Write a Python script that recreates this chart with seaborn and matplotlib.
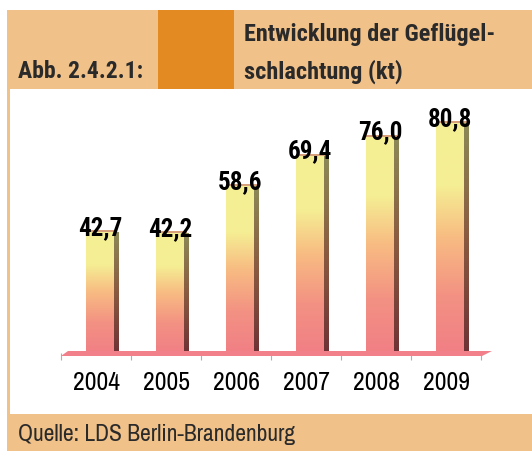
import numpy as np
import pandas as pd
import matplotlib
matplotlib.use("Agg")
import matplotlib.pyplot as plt
import seaborn as sns
from matplotlib.patches import Rectangle, Polygon
from matplotlib.colors import LinearSegmentedColormap

# ---- data ----
years = ["2004", "2005", "2006", "2007", "2008", "2009"]
values = [42.7, 42.2, 58.6, 69.4, 76.0, 80.8]
value_labels = ["42,7", "42,2", "58,6", "69,4", "76,0", "80,8"]
title_lines = ["Entwicklung der Geflügel-", "schlachtung (kt)"]
fig_label = "Abb. 2.4.2.1:"
source = "Quelle: LDS Berlin-Brandenburg"

sns.set_theme(style="white")
REG = ["Liberation Sans Narrow", "Arial Narrow", "Archivo Narrow", "Roboto Condensed",
       "DejaVu Sans"]
BOLD = ["Liberation Sans Narrow", "Arial Narrow", "Roboto Condensed",
        "Barlow Semi Condensed", "DejaVu Sans"]
plt.rcParams["font.family"] = REG

W, H = 532, 452
fig = plt.figure(figsize=(W / 100, H / 100), dpi=100)
fig.patch.set_facecolor("white")

LIGHT = "#F0C189"
DARK = "#E38B22"
TXT = "#2A2A2A"

def fx(px):
    return px / W

def fy(py):
    return 1 - py / H

# header band
fig.patches.append(Rectangle((fx(7), fy(90)), fx(532 - 7), (90 - 11) / H,
                             transform=fig.transFigure, facecolor=LIGHT, edgecolor="none", zorder=0))
fig.patches.append(Rectangle((fx(158), fy(90)), fx(234 - 158), (90 - 11) / H,
                             transform=fig.transFigure, facecolor=DARK, edgecolor="none", zorder=1))
# left border of white area
fig.patches.append(Rectangle((fx(7), fy(415)), fx(2.5), (415 - 90) / H,
                             transform=fig.transFigure, facecolor=LIGHT, edgecolor="none", zorder=0))
# footer band
fig.patches.append(Rectangle((fx(7), 0), fx(532 - 7), (452 - 415) / H,
                             transform=fig.transFigure, facecolor=LIGHT, edgecolor="none", zorder=0))

fig.text(fx(244), fy(34), title_lines[0], fontsize=17.5, fontweight="bold", color=TXT,
         ha="left", va="center", family=BOLD)
fig.text(fx(244), fy(72), title_lines[1], fontsize=17.5, fontweight="bold", color=TXT,
         ha="left", va="center", family=BOLD)
fig.text(fx(18), fy(72), fig_label, fontsize=17, fontweight="bold", color=TXT,
         ha="left", va="center", family=BOLD)
fig.text(fx(18), fy(435), source, fontsize=17, color=TXT, ha="left", va="center",
         family=REG)

# ---- chart axes ----
base_px = 354
scale = 2.86
top_px = 95
ax = fig.add_axes([fx(61), fy(base_px), fx(481 - 61), (base_px - top_px) / H])
ax.set_facecolor("none")

df = pd.DataFrame({"year": years, "value": values})
sns.barplot(data=df, x="year", y="value", ax=ax, width=0.4, color="#F5C080",
            saturation=1, edgecolor="none", zorder=3)

ymax = (base_px - top_px) / scale
xlim = (-0.5, 5.5)

cmap_front = LinearSegmentedColormap.from_list(
    "front", [(0.0, "#F17F85"), (0.25, "#F39283"), (0.5, "#F8BC82"),
              (0.72, "#F5EE94"), (1.0, "#F5F095")])
cmap_side = LinearSegmentedColormap.from_list(
    "side", [(0.0, "#6E3236"), (0.5, "#8A5A40"), (1.0, "#8C8A58")])
grad = np.linspace(0, 1, 256).reshape(-1, 1)

shift = 0.057
side_w = 0.06
bars = list(ax.patches)
for p, v in zip(bars, values):
    p.set_x(p.get_x() + shift)
    x0 = p.get_x()
    x1 = x0 + p.get_width()
    p.set_facecolor("none")
    im = ax.imshow(grad, cmap=cmap_front, origin="lower", aspect="auto",
                   extent=[x0, x1, 0, v], zorder=3, interpolation="bilinear")
    im.set_clip_path(p)
    side = Rectangle((x1, 0), side_w, v - 0.3, facecolor="none", edgecolor="none", zorder=3)
    ax.add_patch(side)
    im2 = ax.imshow(grad, cmap=cmap_side, origin="lower", aspect="auto",
                    extent=[x1, x1 + side_w, 0, v - 0.3], zorder=3, interpolation="bilinear")
    im2.set_clip_path(side)
    ax.add_patch(Rectangle((x0, v - 0.35), x1 - x0 + side_w * 0.6, 0.7,
                           facecolor="#D6A07A", edgecolor="none", zorder=4))

for p, v, lab in zip(bars, values, value_labels):
    cx = p.get_x() + p.get_width() / 2
    ax.annotate(lab, (cx, v), xytext=(0, 3), textcoords="offset points",
                ha="center", va="center", fontsize=18, fontweight="bold",
                color="black", zorder=6, annotation_clip=False, family=BOLD)

ax.set_xlim(*xlim)
ax.set_ylim(0, ymax)

# floor (3D base)
floor_pts = np.array([(61, 357), (68, 352), (492, 352), (482, 357)], dtype=float)
floor_pts[:, 1] = H - floor_pts[:, 1]
floor = Polygon(floor_pts / np.array([W, H]), closed=True, transform=fig.transFigure,
                facecolor="#F2808A", edgecolor="none", zorder=2)
fig.patches.append(floor)

for s in ax.spines.values():
    s.set_visible(False)
ax.set_yticks([])
ax.set_xlabel("")
ax.set_ylabel("")
ax.set_xticks(range(len(years)))
ax.set_xticklabels(years, fontsize=18.5, color="black", family=REG)
ax.tick_params(axis="x", which="major", length=0, pad=12)
ax.set_xticks(np.arange(-0.5, 6.0, 1.0), minor=True)
ax.tick_params(axis="x", which="minor", length=5, width=0.8, color="#B0B0B0",
               direction="out", bottom=True, pad=0)
ax.xaxis.set_tick_params(which="minor", labelbottom=False)

fig.savefig("out.png", dpi=100, facecolor="white")
